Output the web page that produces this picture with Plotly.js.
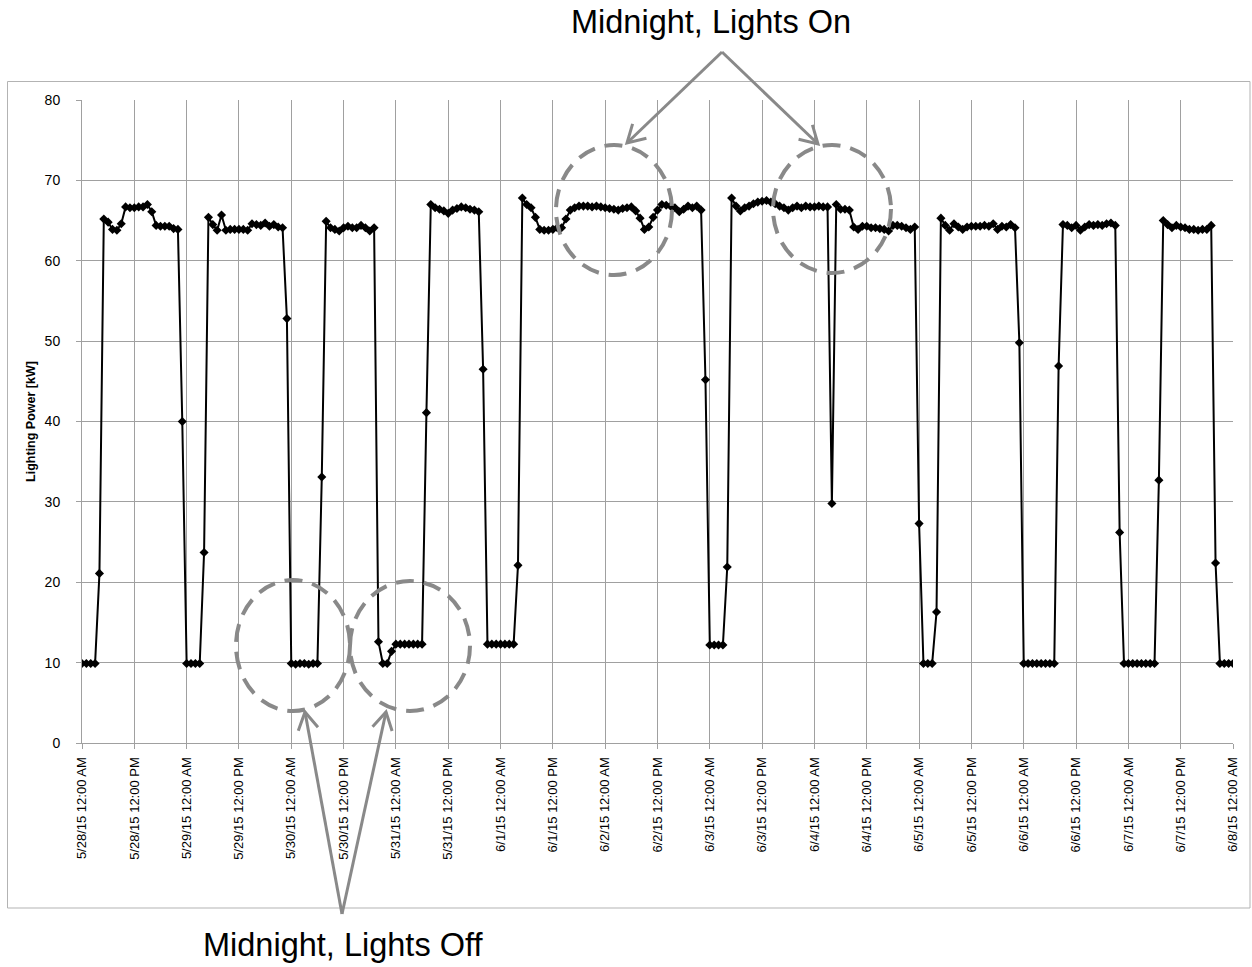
<!DOCTYPE html>
<html>
<head>
<meta charset="utf-8">
<script src="https://cdn.plot.ly/plotly-3.0.1.min.js"></script>
<style>
html,body{margin:0;padding:0;background:#fff;}
#chart{width:1252px;height:967px;}
</style>
</head>
<body>
<div id="chart"></div>
<script>
// Hourly lighting power [kW], starting 5/28/15 12:00 AM
const startDate = Date.UTC(2015, 4, 28, 0, 0);
const day0528 = [9.9,9.9,9.9,9.9,21.1,65.2,64.8,63.9,63.8,64.6,66.7,66.6,66.6,66.7,66.7,67.0,66.1,64.4,64.3,64.3,64.3,64.0,63.9,40.0];
const day0529 = [9.9,9.9,9.9,9.9,23.7,65.4,64.5,63.8,65.7,63.8,63.9,63.9,63.9,63.9,63.8,64.6,64.5,64.4,64.7,64.3,64.5,64.2,64.1,52.8];
const day0530 = [9.9,9.8,9.9,9.9,9.8,9.9,9.9,33.1,64.9,64.1,63.9,63.7,64.1,64.3,64.1,64.1,64.4,64.1,63.7,64.1,12.6,9.9,9.9,11.4];
const day0531 = [12.3,12.3,12.3,12.3,12.3,12.3,12.3,41.1,67.0,66.6,66.4,66.2,65.9,66.3,66.5,66.7,66.6,66.4,66.3,66.1,46.5,12.3,12.3,12.3];
const day0601 = [12.3,12.3,12.3,12.3,22.1,67.8,67.0,66.6,65.4,63.9,63.8,63.8,63.9,64.1,64.1,65.2,66.3,66.6,66.8,66.8,66.8,66.7,66.8,66.7];
const day0602 = [66.6,66.5,66.4,66.3,66.5,66.6,66.7,66.2,65.3,63.9,64.2,65.4,66.3,67.0,66.9,66.8,66.6,66.1,66.4,66.8,66.6,66.8,66.3,45.2];
const day0603 = [12.2,12.2,12.2,12.2,21.9,67.8,66.8,66.2,66.6,66.8,67.1,67.3,67.4,67.5,67.3,67.1,66.8,66.6,66.3,66.6,66.8,66.6,66.8,66.7];
const day0604 = [66.7,66.8,66.7,66.7,29.8,67.0,66.4,66.4,66.3,64.2,63.9,64.3,64.3,64.1,64.1,64.0,63.9,63.7,64.4,64.4,64.3,64.1,63.9,64.2];
const day0605 = [27.3,9.9,9.9,9.9,16.3,65.3,64.4,63.8,64.6,64.2,63.9,64.2,64.3,64.3,64.3,64.4,64.3,64.6,63.9,64.3,64.2,64.5,64.1,49.8];
const day0606 = [9.9,9.9,9.9,9.9,9.9,9.9,9.9,9.9,46.9,64.5,64.4,64.1,64.4,63.8,64.2,64.5,64.4,64.5,64.4,64.6,64.7,64.4,26.2,9.9];
const day0607 = [9.9,9.9,9.9,9.9,9.9,9.9,9.9,32.7,65.0,64.5,64.1,64.4,64.2,64.1,63.9,63.9,63.8,63.9,63.9,64.4,22.4,9.9,9.9,9.9];
const day0608 = [9.9];

const yTitle = 'Lighting Power [kW]';
const noteOn = 'Midnight, Lights On';
const noteOff = 'Midnight, Lights Off';

const power = [].concat(day0528, day0529, day0530, day0531, day0601, day0602, day0603, day0604, day0605, day0606, day0607, day0608);
function pad(n){ return (n < 10 ? '0' : '') + n; }
function fmt(ms){
  const d = new Date(ms);
  return d.getUTCFullYear() + '-' + pad(d.getUTCMonth()+1) + '-' + pad(d.getUTCDate()) + ' ' + pad(d.getUTCHours()) + ':' + pad(d.getUTCMinutes());
}
const times = power.map((v, i) => fmt(startDate + i * 3600000));

// layout geometry (pixels)
const ML = 82, MT = 100, PW = 1151, PH = 643;
const px = p => (p - ML) / PW;
const py = p => (MT + PH - p) / PH;

const gray = '#898989';
const shapes = [];
// outer chart border
shapes.push({type:'rect', xref:'paper', yref:'paper', layer:'below',
  x0:px(7.5), x1:px(1250), y0:py(908), y1:py(81.5),
  line:{color:'#b3b3b3', width:1}, fillcolor:'rgba(0,0,0,0)'});
// dashed ellipses
function ell(cx, cy, rx, ry){
  shapes.push({type:'circle', xref:'paper', yref:'paper',
    x0:px(cx-rx), x1:px(cx+rx), y0:py(cy+ry), y1:py(cy-ry),
    line:{color:gray, width:4, dash:'18px,10px'}, fillcolor:'rgba(0,0,0,0)'});
}
ell(293, 645.5, 57, 65.5);
ell(410, 646, 60, 65);
ell(614, 210, 58, 65);
ell(832, 209, 59, 64);
// arrows
function arrow(x1, y1, x2, y2){
  shapes.push({type:'line', xref:'paper', yref:'paper',
    x0:px(x1), y0:py(y1), x1:px(x2), y1:py(y2), line:{color:gray, width:3}});
  const a = Math.atan2(y1 - y2, x1 - x2);
  const len = 20, sp = 30 * Math.PI / 180;
  const ax = x2 + len * Math.cos(a + sp), ay = y2 + len * Math.sin(a + sp);
  const bx = x2 + len * Math.cos(a - sp), by = y2 + len * Math.sin(a - sp);
  shapes.push({type:'path', xref:'paper', yref:'paper',
    path:'M' + px(ax) + ',' + py(ay) + ' L' + px(x2) + ',' + py(y2) + ' L' + px(bx) + ',' + py(by),
    line:{color:gray, width:3}});
}
arrow(722, 52, 627, 143);
arrow(722, 52, 818, 144);
arrow(342, 914, 305, 712);
arrow(342, 914, 386, 712);

const trace = {
  x: times, y: power, type:'scatter', mode:'lines+markers',
  line:{color:'#000000', width:2},
  marker:{symbol:'diamond', size:7, color:'#000000'},
  hoverinfo:'x+y', showlegend:false
};

const gridc = '#a0a0a0';
const layout = {
  width:1252, height:967,
  margin:{l:ML, r:1252-ML-PW, t:MT, b:967-MT-PH, pad:0},
  paper_bgcolor:'#ffffff', plot_bgcolor:'#ffffff',
  font:{family:'Liberation Sans, Arial, sans-serif', color:'#000000'},
  xaxis:{
    type:'date',
    range:[fmt(startDate), fmt(startDate + 264*3600000)],
    tick0:fmt(startDate), dtick:12*3600000,
    tickformat:'%-m/%-d/%y %-I:%M %p',
    tickangle:-90,
    tickfont:{size:13, color:'#000'},
    showgrid:true, gridcolor:gridc, gridwidth:1,
    zeroline:false, showline:true, linecolor:gridc, linewidth:1,
    ticks:'outside', ticklen:5, tickcolor:gridc, tickwidth:1,
    ticklabelstandoff:3,
    fixedrange:true
  },
  yaxis:{
    range:[0,80], dtick:10, tick0:0,
    tickfont:{size:14, color:'#000'},
    showgrid:true, gridcolor:gridc, gridwidth:1,
    zeroline:false, showline:true, linecolor:gridc, linewidth:1,
    ticks:'outside', ticklen:5, tickcolor:gridc, tickwidth:1,
    ticklabelstandoff:13,
    title:{text:yTitle, font:{size:12.5, color:'#000', weight:'bold', family:'Liberation Sans, Arial, sans-serif'}, standoff:6},
    fixedrange:true
  },
  shapes: shapes,
  annotations:[
    {text:noteOn, xref:'paper', yref:'paper', x:px(711), y:py(22), xanchor:'center', yanchor:'middle',
     showarrow:false, font:{size:32.5, color:'#000', family:'Liberation Sans, Arial, sans-serif'}},
    {text:noteOff, xref:'paper', yref:'paper', x:px(343), y:py(945), xanchor:'center', yanchor:'middle',
     showarrow:false, font:{size:32.5, color:'#000', family:'Liberation Sans, Arial, sans-serif'}}
  ]
};

Plotly.newPlot('chart', [trace], layout, {displayModeBar:false, staticPlot:true});
</script>
</body>
</html>
